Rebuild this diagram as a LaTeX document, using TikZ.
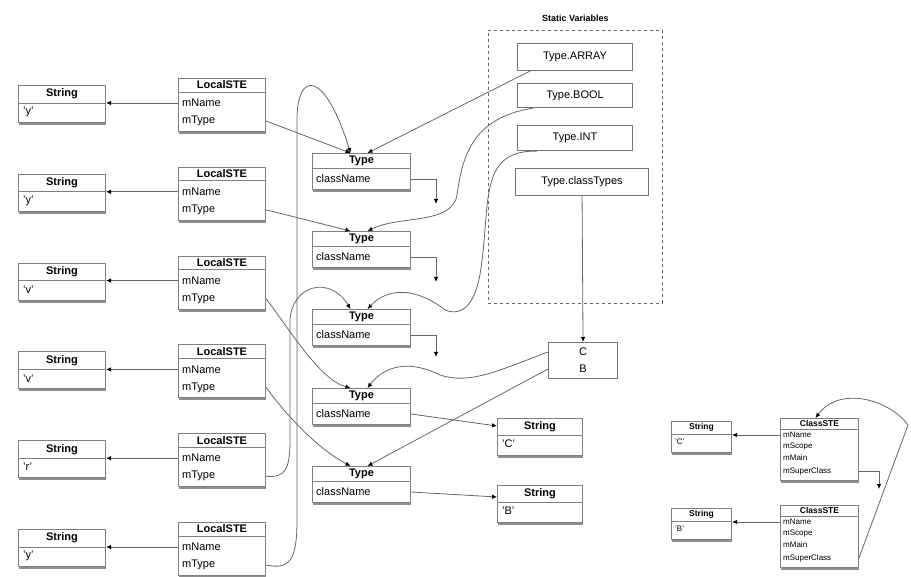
\documentclass[tikz,border=0pt]{standalone}
\usepackage{fontspec}
\setmainfont{Liberation Sans}
\usetikzlibrary{arrows.meta,shadows,calc}
\begin{document}
\begin{tikzpicture}[x=1pt,y=-1pt,
  box/.style={draw=black!50, line width=1pt, fill=white, inner sep=0pt, anchor=north west,
    drop shadow={shadow xshift=0.5pt, shadow yshift=-2.5pt, fill=black!55, opacity=0.8}},
  sbox/.style={draw=black!55, line width=1.1pt, fill=white, inner sep=0pt, anchor=north west},
  sepl/.style={draw=black!50, line width=0.8pt},
  hdr/.style={font=\bfseries\fontsize{11}{12}\selectfont, inner sep=0pt},
  fld/.style={font=\fontsize{11}{12}\selectfont, inner sep=0pt, anchor=west},
  shdr/.style={font=\bfseries\fontsize{8.5}{9}\selectfont, inner sep=0pt},
  sfld/.style={font=\fontsize{8}{9}\selectfont, inner sep=0pt, anchor=west},
  con/.style={draw=black!60, line width=0.8pt, -{Latex[length=5pt,width=4.5pt,fill=black,color=black]}},
]
\useasboundingbox (0,0) rectangle (911,577);

% ---- left column: String <- LocalSTE
\foreach \i/\v in {1/'y',2/'y',3/'v',4/'v',5/'r',6/'y'}{
  \pgfmathsetmacro\t{78+88.8*(\i-1)}
  \node[box, minimum width=87pt, minimum height=53pt] (L\i) at (178,\t) {};
  \draw[sepl] ([yshift=-14pt]L\i.north west) -- ([yshift=-14pt]L\i.north east);
  \node[hdr] (L\i h) at ([yshift=-7pt]L\i.north) {LocalSTE};
  \node[fld] (L\i n) at ([xshift=4pt,yshift=-25pt]L\i.north west) {mName};
  \node[fld] (L\i t) at ([xshift=4pt,yshift=-43pt]L\i.north west) {mType};
  \node[box, minimum width=87pt, minimum height=37pt] (S\i) at (18,\t+7) {};
  \draw[sepl] ([yshift=-18pt]S\i.north west) -- ([yshift=-18pt]S\i.north east);
  \node[hdr] (S\i h) at ([yshift=-9pt]S\i.north) {String};
  \node[fld] (S\i v) at ([xshift=5pt,yshift=-27pt]S\i.north west) {\v};
  \draw[con] (L\i n -| L\i.west) -- (L\i n -| S\i.east);
}

% ---- Type objects
\foreach \i/\t in {1/153,2/231,3/309,4/388,5/466}{
  \node[box, minimum width=98pt, minimum height=36pt] (T\i) at (312,\t) {};
  \draw[sepl] ([yshift=-15pt]T\i.north west) -- ([yshift=-15pt]T\i.north east);
  \node[hdr] (T\i h) at ([yshift=-8pt]T\i.north) {Type};
  \node[fld] (T\i c) at ([xshift=4pt,yshift=-26pt]T\i.north west) {className};
  \coordinate (T\i l) at ([xshift=-11pt]T\i.north);
  \coordinate (T\i r) at ([xshift=6pt]T\i.north);
}
% null pointers
\foreach \i/\d in {1/25,2/25,3/22}{
  \coordinate (N\i) at ([xshift=25pt,yshift=-\d pt]T\i c -| T\i.east);
  \draw[con] (T\i c -| T\i.east) -| (N\i);
}

% ---- right Strings
\node[box, minimum width=85pt, minimum height=37pt] (R1) at (497,418) {};
\draw[sepl] ([yshift=-17pt]R1.north west) -- ([yshift=-17pt]R1.north east);
\node[hdr] (R1h) at ([yshift=-8.5pt]R1.north) {String};
\node[fld] (R1v) at ([xshift=5pt,yshift=-26pt]R1.north west) {'C'};
\node[box, minimum width=85pt, minimum height=37pt] (R2) at (497,485) {};
\draw[sepl] ([yshift=-17pt]R2.north west) -- ([yshift=-17pt]R2.north east);
\node[hdr] (R2h) at ([yshift=-8.5pt]R2.north) {String};
\node[fld] (R2v) at ([xshift=5pt,yshift=-26pt]R2.north west) {'B'};
\draw[con] (T4c -| T4.east) -- ([yshift=-8pt]R1.north west);
\draw[con] (T5c -| T5.east) -- ([yshift=-12pt]R2.north west);

% ---- Static variables
\node[draw=black!60, dashed, line width=0.8pt, minimum width=174pt, minimum height=273pt, anchor=north west, inner sep=0pt] (SV) at (488,30) {};
\node[font=\bfseries\fontsize{9}{10}\selectfont, inner sep=0pt] (SVt) at ([yshift=12pt]SV.north) {Static Variables};
\node[sbox, minimum width=115pt, minimum height=27pt] (ARR) at (517,43) {};
\node[fld, anchor=center] at (ARR.center) {Type.ARRAY};
\node[sbox, minimum width=115pt, minimum height=24pt] (BOOL) at (517,83) {};
\node[fld, anchor=center] at (BOOL.center) {Type.BOOL};
\node[sbox, minimum width=115pt, minimum height=25pt] (INT) at (517,125) {};
\node[fld, anchor=center] at (INT.center) {Type.INT};
\node[sbox, minimum width=133pt, minimum height=27pt] (CT) at (515,168) {};
\node[fld, anchor=center] at (CT.center) {Type.classTypes};

% ---- class types map
\node[sbox, minimum width=69pt, minimum height=36pt] (CB) at (548,342) {};
\node[fld, anchor=center] (CBc) at ([yshift=-10pt]CB.north) {C};
\node[fld, anchor=center] (CBb) at ([yshift=-27pt]CB.north) {B};
\draw[con] (CT.south) -- (CB.north);

% ---- connectors to Type objects
\draw[con] (L1t -| L1.east) -- (T1l);
\draw[con] (L6t -| L6.east) .. controls (290,570) and (297,560) .. (297,520) -- (297,120)
  .. controls (297,70) and (325,70) .. (T1l);
\draw[con] ([xshift=13pt]ARR.south west) -- (T1r);
\draw[con] (L2t -| L2.east) -- (T2l);
\draw[con] ([xshift=16pt]BOOL.south west) .. controls (470,118) and (462,160) .. (457,195)
  .. controls (452,225) and (400,215) .. (T2r);
\draw[con] (L5t -| L5.east) .. controls (285,478) and (290,470) .. (290,440) -- (290,320)
  .. controls (292,285) and (330,275) .. (T3l);
\draw[con] ([xshift=20pt]INT.south west) .. controls (480,150) and (490,200) .. (482,260)
  .. controls (478,300) and (465,318) .. (445,310) .. controls (420,290) and (390,285) .. (T3r);
\draw[con] (L3t -| L3.east) .. controls (290,330) and (320,380) .. (T4l);
\draw[con] (CBc -| CB.west) .. controls (500,370) and (470,385) .. (440,375)
  .. controls (410,360) and (385,365) .. (T4r);
\draw[con] (L4t -| L4.east) .. controls (290,420) and (320,450) .. (T5l);
\draw[con] (CBb -| CB.west) -- (T5r);

% ---- ClassSTE part
\foreach \i/\t/\v in {1/418/'C',2/505/'B'}{
  \node[box, minimum width=78pt, minimum height=62pt] (C\i) at (780,\t) {};
  \draw[sepl] ([yshift=-11pt]C\i.north west) -- ([yshift=-11pt]C\i.north east);
  \node[shdr] (C\i h) at ([yshift=-5.5pt]C\i.north) {ClassSTE};
  \node[sfld] (C\i a) at ([xshift=3pt,yshift=-17pt]C\i.north west) {mName};
  \node[sfld] (C\i b) at ([xshift=3pt,yshift=-29pt]C\i.north west) {mScope};
  \node[sfld] (C\i c) at ([xshift=3pt,yshift=-40pt]C\i.north west) {mMain};
  \node[sfld] (C\i d) at ([xshift=3pt,yshift=-53pt]C\i.north west) {mSuperClass};
  \node[box, minimum width=60pt, minimum height=31pt] (P\i) at (671,\t+3) {};
  \draw[sepl] ([yshift=-13pt]P\i.north west) -- ([yshift=-13pt]P\i.north east);
  \node[shdr] (P\i h) at ([yshift=-6.5pt]P\i.north) {String};
  \node[sfld] (P\i v) at ([xshift=4pt,yshift=-21pt]P\i.north west) {\v};
  \draw[con] (C\i a -| C\i.west) -- (C\i a -| P\i.east);
}
\coordinate (N4) at ([xshift=20pt,yshift=-18pt]C1d -| C1.east);
\draw[con] (C1d -| C1.east) -| (N4);
\draw[con] (C2d -| C2.east) -- (908,425) .. controls (890,400) and (840,385) .. ([xshift=-4pt]C1.north);
\end{tikzpicture}
\end{document}
